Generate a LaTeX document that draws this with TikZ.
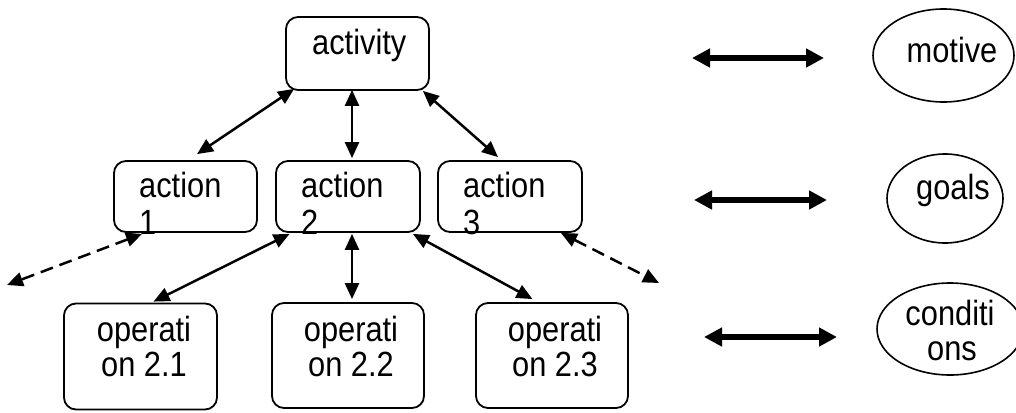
\documentclass[tikz,border=0pt]{standalone}
\usepackage{fontspec}
\setmainfont[FakeStretch=0.88]{Liberation Sans}
\usetikzlibrary{arrows.meta,calc,shapes.geometric}
\begin{document}
\begin{tikzpicture}[x=1pt,y=-1pt,
  box/.style={draw, line width=1.8pt, rounded corners=12pt, inner sep=0pt},
  oval/.style={draw, ellipse, line width=1.6pt, inner sep=0pt},
  lbl/.style={inner sep=0pt, font=\fontsize{35}{37}\selectfont},
  link/.style={line width=2.5pt, {Triangle[length=16pt,width=14pt]}-{Triangle[length=16pt,width=14pt]}},
  dlink/.style={link, dash pattern=on 13pt off 7pt},
  bigarrow/.style={line width=6pt, {Triangle[length=18pt,width=18pt]}-{Triangle[length=18pt,width=18pt]}}
]
\useasboundingbox (0,0) rectangle (1016,412);

% hierarchy boxes
\node[box, minimum width=143pt, minimum height=73pt] (act) at (357.5,53.5) {};
\node[box, minimum width=143pt, minimum height=71pt] (a1) at (185.5,196.5) {};
\node[box, minimum width=144pt, minimum height=71pt] (a2) at (348,196.5) {};
\node[box, minimum width=144pt, minimum height=71pt] (a3) at (510,196.5) {};
\node[box, minimum width=153pt, minimum height=106pt] (op1) at (140.5,356.5) {};
\node[box, minimum width=152pt, minimum height=105pt] (op2) at (348,355.5) {};
\node[box, minimum width=152pt, minimum height=105pt] (op3) at (552,355.5) {};

% box labels
\node[lbl, anchor=base west] (actT) at (312,55) {activity};
\node[lbl, anchor=base west] (a1T) at (139,197) {action};
\node[lbl, anchor=base west] (a1N) at (139,234) {1};
\node[lbl, anchor=base west] (a2T) at (301,197) {action};
\node[lbl, anchor=base west] (a2N) at (301,234) {2};
\node[lbl, anchor=base west] (a3T) at (463,197) {action};
\node[lbl, anchor=base west] (a3N) at (463,234) {3};
\node[lbl, anchor=base] (op1T) at (144,341.5) {operati};
\node[lbl, anchor=base] (op1N) at (144,376.5) {on 2.1};
\node[lbl, anchor=base] (op2T) at (351,341.5) {operati};
\node[lbl, anchor=base] (op2N) at (351,376.5) {on 2.2};
\node[lbl, anchor=base] (op3T) at (555,341.5) {operati};
\node[lbl, anchor=base] (op3N) at (555,376.5) {on 2.3};

% levels on the right
\node[oval, minimum width=141pt, minimum height=93pt] (mot) at (943.5,55.5) {};
\node[oval, minimum width=116pt, minimum height=89pt] (goal) at (945,198.5) {};
\node[oval, minimum width=146pt, minimum height=92pt] (cond) at (950,329) {};
\node[lbl, anchor=base] (motT) at (952,63) {motive};
\node[lbl, anchor=base] (goalT) at (953,199) {goals};
\node[lbl, anchor=base] (condT) at (950,325) {conditi};
\node[lbl, anchor=base] (condN) at (952,360) {ons};

% links within the hierarchy
\draw[link] ($(act.south west)+(9,-2)$) -- ($(a1.north)+(11.5,-6)$);
\draw[link] ($(act.south)+(-5.5,-1)$) -- ($(a2.north)+(4,-2)$);
\draw[link] ($(act.south east)+(-7,0)$) -- ($(a3.north)+(-12,-3)$);
\draw[link] ($(a2.south west)+(14.5,1)$) -- ($(op1.north)+(13,-1)$);
\draw[link] ($(a2.south)+(4,1)$) -- ($(op2.north)+(4,-3)$);
\draw[link] ($(a2.south east)+(-8,1)$) -- ($(op3.north)+(-19.5,-3)$);

% open-ended links
\coordinate (outL) at (7,285);
\coordinate (outR) at (659,283);
\draw[dlink] ($(a1.south west)+(29,1)$) -- (outL);
\draw[dlink] ($(a3.south east)+(-22,0)$) -- (outR);

% correspondence arrows
\coordinate (m1) at (692,58);
\coordinate (m2) at (824,58);
\coordinate (g1) at (694,200);
\coordinate (g2) at (827,200);
\coordinate (c1) at (704,337);
\coordinate (c2) at (837,337);
\draw[bigarrow] (m1) -- (m2);
\draw[bigarrow] (g1) -- (g2);
\draw[bigarrow] (c1) -- (c2);
\end{tikzpicture}
\end{document}
